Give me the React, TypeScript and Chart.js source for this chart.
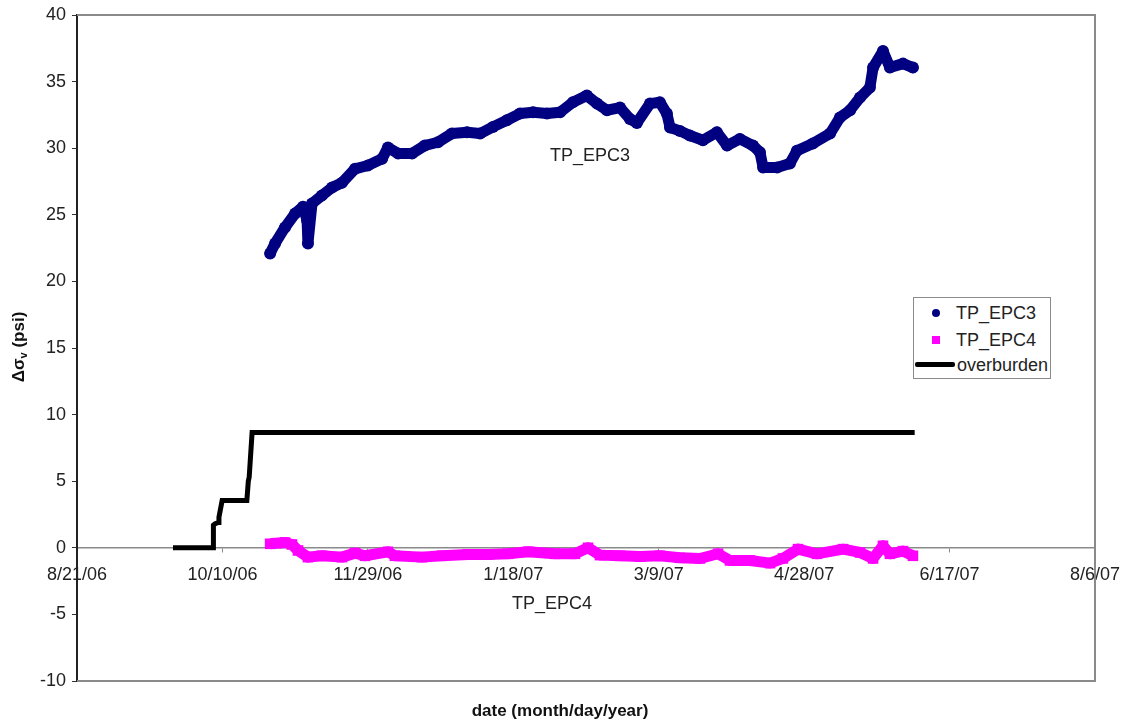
import React, { useEffect, useRef } from "react";
import { Chart, registerables } from "chart.js";

Chart.register(...registerables);

// x values are days counted from 8/21/2006
const START_UTC = Date.UTC(2006, 7, 21);
const X_MIN = 0;
const X_MAX = 350;
const X_STEP = 50;
const Y_MIN = -10;
const Y_MAX = 40;
const Y_STEP = 5;

const seriesLabels = ["TP_EPC3", "TP_EPC4", "overburden"];
const xTitle = "date (month/day/year)";

const epc3Days = [
  66.4, 68.1, 71.5, 75.0, 77.7, 79.1, 79.4, 80.8, 84.2, 87.7, 91.1, 95.6, 100.0,
  104.9, 106.9, 110.4, 115.2, 119.6, 124.1, 128.9, 134.1, 138.6, 143.0, 147.8,
  152.3, 156.8, 161.6, 166.1, 170.5, 175.3, 178.8, 182.2, 186.7, 190.1, 192.5,
  197.0, 200.4, 202.8, 203.9, 207.3, 210.7, 215.2, 220.0, 223.5, 227.9, 232.4,
  234.8, 235.9, 240.7, 245.1, 247.5, 253.0, 258.9, 262.3, 265.8, 269.2, 272.6,
  273.7, 277.1, 279.5, 284.0, 287.4,
];
const epc3Values = [
  22.1, 22.85, 24.05, 25.1, 25.6, 24.6, 22.85, 25.85, 26.45, 27.05, 27.4, 28.45, 28.7,
  29.2, 30.05, 29.6, 29.6, 30.2, 30.45, 31.1, 31.2, 31.1, 31.6, 32.1,
  32.6, 32.7, 32.6, 32.7, 33.45, 33.95, 33.35, 32.85, 33.05, 32.2, 31.9,
  33.35, 33.45, 32.6, 31.55, 31.3, 30.95, 30.6, 31.2, 30.2, 30.7, 30.2,
  29.7, 28.55, 28.55, 28.85, 29.8, 30.35, 31.1, 32.3, 32.85, 33.8, 34.55,
  36.05, 37.3, 36.05, 36.35, 36.05,
];

const epc4Days = [
  66.4, 68.8, 71.5, 73.9, 76.0, 79.4, 84.2, 91.1, 95.6, 99.0, 106.9, 109.3, 118.6,
  125.5, 134.4, 141.3, 148.2, 155.1, 164.3, 171.2, 175.7, 179.8, 186.7, 193.6,
  200.4, 207.3, 214.2, 220.4, 224.5, 231.4, 238.3, 242.7, 247.9, 254.4, 263.4,
  269.2, 273.7, 277.1, 279.5, 284.0, 287.4,
];
const epc4Values = [
  0.3, 0.35, 0.4, 0.25, -0.2, -0.7, -0.6, -0.7, -0.4, -0.6, -0.3, -0.6, -0.7,
  -0.6, -0.5, -0.5, -0.45, -0.3, -0.45, -0.45, 0.0, -0.55, -0.6, -0.65,
  -0.6, -0.75, -0.8, -0.45, -0.95, -0.95, -1.15, -0.8, -0.1, -0.45, -0.1,
  -0.35, -0.8, 0.15, -0.45, -0.25, -0.6,
];

const overburdenDays = [33.0, 46.8, 46.9, 47.4, 48.6, 48.8, 49.9, 58.4, 58.9, 59.2, 60.2, 288.0];
const overburdenValues = [0, 0, 1.7, 1.8, 1.9, 2.3, 3.55, 3.55, 5.0, 5.3, 8.65, 8.65];

const annotationTexts = ["TP_EPC3", "TP_EPC4"];
const annotationDays = [176.4, 163.3];
const annotationValues = [29.4, -4.2];

const FONT = "'Liberation Sans', Arial, Helvetica, sans-serif";

function formatDay(d: number): string {
  const dt = new Date(START_UTC + Math.round(d) * 86400000);
  const yy = String(dt.getUTCFullYear() % 100).padStart(2, "0");
  return `${dt.getUTCMonth() + 1}/${dt.getUTCDate()}/${yy}`;
}

function toPoints(xs: number[], ys: number[]) {
  return xs.map((x, i) => ({ x, y: ys[i] }));
}

const decorPlugin = {
  id: "decor",
  beforeDatasetsDraw(chart: any) {
    const { ctx, chartArea } = chart;
    ctx.save();
    ctx.strokeStyle = "#8a8a8a";
    ctx.lineWidth = 2;
    ctx.beginPath();
    ctx.moveTo(chartArea.left, chartArea.top);
    ctx.lineTo(chartArea.right, chartArea.top);
    ctx.lineTo(chartArea.right, chartArea.bottom);
    ctx.lineTo(chartArea.left, chartArea.bottom);
    ctx.stroke();
    ctx.restore();
  },
  afterDraw(chart: any) {
    const { ctx, scales } = chart;
    ctx.save();
    ctx.fillStyle = "#222";
    ctx.font = `18px ${FONT}`;
    ctx.textAlign = "center";
    ctx.textBaseline = "middle";
    annotationTexts.forEach((t, i) => {
      ctx.fillText(t, scales.x.getPixelForValue(annotationDays[i]), scales.y.getPixelForValue(annotationValues[i]));
    });
    ctx.font = `bold 17px ${FONT}`;
    ctx.fillStyle = "#111";
    ctx.fillText(xTitle, 560, 711);
    ctx.translate(18, 347);
    ctx.rotate(-Math.PI / 2);
    const big = `bold 17px ${FONT}`;
    const small = `bold 11px ${FONT}`;
    ctx.textAlign = "left";
    ctx.textBaseline = "alphabetic";
    ctx.font = big;
    const w1 = ctx.measureText("Δσ").width;
    const w3 = ctx.measureText(" (psi)").width;
    ctx.font = small;
    const w2 = ctx.measureText("v").width;
    const total = w1 + w2 + w3;
    let x = -total / 2;
    const base = 6;
    ctx.font = big;
    ctx.fillText("Δσ", x, base);
    x += w1;
    ctx.font = small;
    ctx.fillText("v", x, base + 3);
    x += w2;
    ctx.font = big;
    ctx.fillText(" (psi)", x, base);
    ctx.restore();
  },
};

function Legend() {
  const row: React.CSSProperties = {
    position: "absolute",
    left: 0,
    height: 26,
    display: "flex",
    alignItems: "center",
    fontFamily: FONT,
    fontSize: 18,
    color: "#222",
    whiteSpace: "nowrap",
  };
  return (
    <div
      style={{
        position: "absolute",
        left: 913,
        top: 297,
        width: 138,
        height: 82,
        border: "1px solid #8a8a8a",
        background: "#fff",
        boxSizing: "border-box",
      }}
    >
      <div style={{ ...row, top: 2 }}>
        <span style={{ display: "inline-block", width: 42, position: "relative", height: 26 }}>
          <span style={{ position: "absolute", left: 18, top: 9, width: 8, height: 8, borderRadius: 4, background: "#000080" }} />
        </span>
        <span>{seriesLabels[0]}</span>
      </div>
      <div style={{ ...row, top: 29 }}>
        <span style={{ display: "inline-block", width: 42, position: "relative", height: 26 }}>
          <span style={{ position: "absolute", left: 18, top: 9, width: 8, height: 8, background: "#ff00ff" }} />
        </span>
        <span>{seriesLabels[1]}</span>
      </div>
      <div style={{ ...row, top: 54 }}>
        <span style={{ display: "inline-block", width: 43, position: "relative", height: 26 }}>
          <span style={{ position: "absolute", left: 1, top: 10, width: 40, height: 5, borderRadius: 2, background: "#000" }} />
        </span>
        <span>{seriesLabels[2]}</span>
      </div>
    </div>
  );
}

export default function App() {
  const canvasRef = useRef<HTMLCanvasElement | null>(null);

  useEffect(() => {
    if (!canvasRef.current) return;
    Chart.defaults.font.family = FONT;
    const chart = new Chart(canvasRef.current, {
      type: "scatter",
      data: {
        datasets: [
          {
            label: seriesLabels[2],
            data: toPoints(overburdenDays, overburdenValues),
            showLine: true,
            borderColor: "#000",
            backgroundColor: "#000",
            borderWidth: 5,
            pointRadius: 0,
            order: 1,
          },
          {
            label: seriesLabels[0],
            data: toPoints(epc3Days, epc3Values),
            showLine: true,
            borderColor: "#000080",
            backgroundColor: "#000080",
            borderWidth: 11,
            borderJoinStyle: "round",
            borderCapStyle: "round",
            pointRadius: 6,
            pointBorderWidth: 0,
            pointStyle: "circle",
            order: 2,
          },
          {
            label: seriesLabels[1],
            data: toPoints(epc4Days, epc4Values),
            showLine: true,
            borderColor: "#ff00ff",
            backgroundColor: "#ff00ff",
            borderWidth: 11,
            borderJoinStyle: "round",
            pointRadius: 7.5,
            pointBorderWidth: 0,
            pointStyle: "rect",
            order: 3,
          },
        ],
      },
      options: {
        animation: false,
        responsive: true,
        maintainAspectRatio: false,
        layout: { padding: { left: 0, top: 15, right: 28, bottom: 42 } },
        plugins: {
          legend: { display: false },
          tooltip: { enabled: false },
        },
        scales: {
          x: {
            type: "linear",
            position: { y: 0 } as any,
            min: X_MIN,
            max: X_MAX,
            ticks: {
              stepSize: X_STEP,
              color: "#222",
              font: { size: 18 },
              padding: 12,
              maxRotation: 0,
              autoSkip: false,
              callback: (v: any) => formatDay(Number(v)),
            },
            grid: { drawOnChartArea: false, tickLength: 4, color: "#8a8a8a" },
            border: { color: "#8a8a8a", width: 1.5 },
            afterFit: (s: any) => {
              s.height = 0;
              s.paddingLeft = 0;
              s.paddingRight = 0;
            },
          },
          y: {
            type: "linear",
            position: "left",
            min: Y_MIN,
            max: Y_MAX,
            ticks: { stepSize: Y_STEP, color: "#222", font: { size: 18 }, padding: 6 },
            grid: { drawOnChartArea: false, tickLength: 5, color: "#333" },
            border: { color: "#222", width: 2 },
            afterFit: (s: any) => {
              s.width = 77;
              s.paddingTop = 0;
              s.paddingBottom = 0;
            },
          },
        },
      },
      plugins: [decorPlugin],
    });
    return () => chart.destroy();
  }, []);

  return (
    <div style={{ position: "absolute", left: 0, top: 0, width: 1123, height: 723, background: "#fff" }}>
      <canvas ref={canvasRef} />
      <Legend />
    </div>
  );
}
